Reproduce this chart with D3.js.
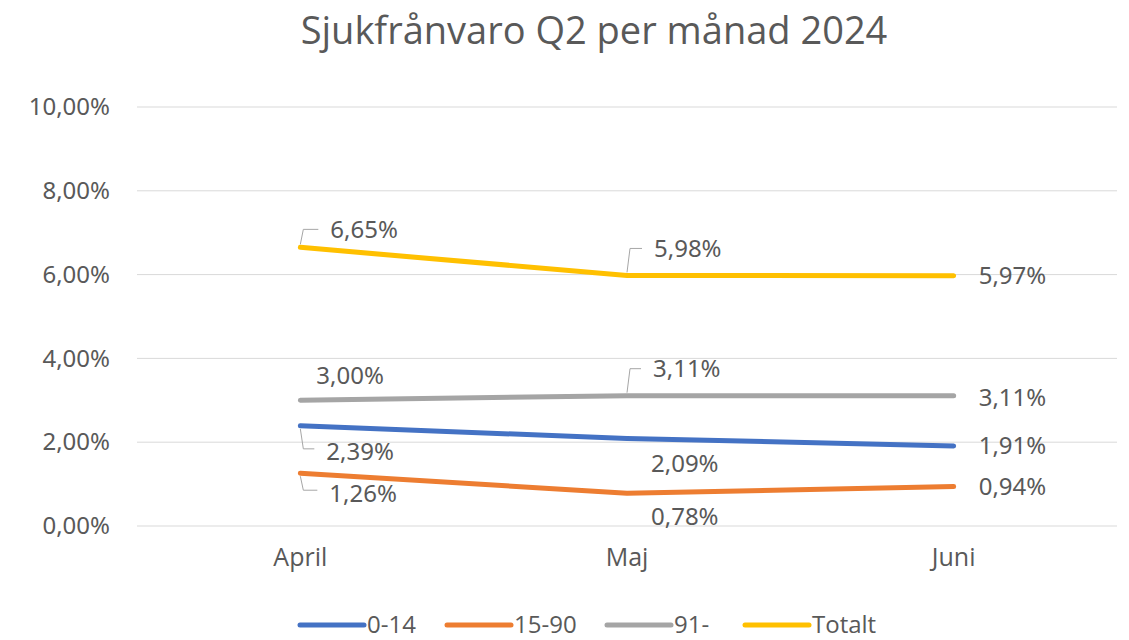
<!DOCTYPE html>
<html>
<head>
<meta charset="utf-8">
<script src="https://cdn.jsdelivr.net/npm/d3@7"></script>
<style>
  body { margin: 0; background: #fff; }
  svg text { fill: #595959; }
  .title { font-family: "Open Sans", sans-serif; font-size: 38px; }
  .ytick { font-family: "Noto Sans", sans-serif; font-size: 24px; }
  .xtick { font-family: "Liberation Sans Narrow", "Open Sans", sans-serif; font-size: 25px; }
  .dlabel { font-family: "Noto Sans", sans-serif; font-size: 24px; }
  .legend-text { font-family: "Liberation Sans Narrow", "Open Sans", sans-serif; font-size: 24px; }
</style>
</head>
<body>
<div id="chart"></div>
<script>
// data
const months = ["April", "Maj", "Juni"];
const seriesNames = ["0-14", "15-90", "91-", "Totalt"];
const values014 = [2.39, 2.09, 1.91];
const values1590 = [1.26, 0.78, 0.94];
const values91 = [3.00, 3.11, 3.11];
const valuesTotalt = [6.65, 5.98, 5.97];
const yTicks = [0, 2, 4, 6, 8, 10];

const seriesColors = ["#4472C4", "#ED7D31", "#A5A5A5", "#FFC000"];

// label placement per series / month: [dx, dy, leader?]
const labelPlacement = {
    "0-14":   [[26, 26, "down"], [24, 25, null], [25, 0, null]],
    "15-90":  [[29, 20, "down"], [24, 23, null], [25, 0, null]],
    "91-":    [[16, -25, null], [26, -27, "up"], [25, 2, null]],
    "Totalt": [[30, -18, "up"], [27, -27, "up"], [25, 0, null]]
};

const seriesData = [values014, values1590, values91, valuesTotalt].map((vals, i) => ({
    name: seriesNames[i],
    color: seriesColors[i],
    values: vals.map((v, j) => ({month: months[j], value: v}))
}));

const width = 1129, height = 640;
const margin = {top: 107, right: 12, bottom: 114, left: 137};

const svg = d3.select("#chart").append("svg")
    .attr("width", width)
    .attr("height", height);

svg.append("text")
    .attr("class", "title")
    .attr("x", 594)
    .attr("y", 44)
    .attr("text-anchor", "middle")
    .text("Sjukfrånvaro Q2 per månad 2024");

const x = d3.scaleBand()
    .domain(months)
    .range([margin.left, width - margin.right]);

const y = d3.scaleLinear()
    .domain([0, 10])
    .range([height - margin.bottom, margin.top]);

const fmt = v => d3.format(".2f")(v).replace(".", ",") + "%";

// gridlines
svg.append("g")
    .selectAll("line")
    .data(yTicks)
    .join("line")
    .attr("x1", margin.left)
    .attr("x2", width - margin.right)
    .attr("y1", d => y(d))
    .attr("y2", d => y(d))
    .attr("stroke", "#d9d9d9")
    .attr("stroke-width", 1);

// y axis labels
const yAxis = svg.append("g")
    .attr("transform", `translate(${margin.left},0)`)
    .call(d3.axisLeft(y).tickValues(yTicks).tickSize(0).tickPadding(27).tickFormat(fmt));
yAxis.select(".domain").remove();
yAxis.selectAll("text").attr("class", "ytick").attr("fill", null);

// x axis labels
const xAxis = svg.append("g")
    .attr("transform", `translate(0,${height - margin.bottom})`)
    .call(d3.axisBottom(x).tickSize(0).tickPadding(22));
xAxis.select(".domain").remove();
xAxis.selectAll("text").attr("class", "xtick").attr("fill", null);

const cx = d => x(d.month) + x.bandwidth() / 2;

const line = d3.line()
    .x(cx)
    .y(d => y(d.value));

// lines
svg.append("g")
    .selectAll("path")
    .data(seriesData)
    .join("path")
    .attr("d", d => line(d.values))
    .attr("fill", "none")
    .attr("stroke", d => d.color)
    .attr("stroke-width", 5)
    .attr("stroke-linecap", "round")
    .attr("stroke-linejoin", "round");

// data labels + leader lines
const labelGroup = svg.append("g");
seriesData.forEach(s => {
    s.values.forEach((d, j) => {
        const [dx, dy, leader] = labelPlacement[s.name][j];
        const px = cx(d), py = y(d.value);
        if (leader) {
            const sign = leader === "up" ? -1 : 1;
            const startY = py + sign * 3;
            const endY = py + dy + (leader === "up" ? 0 : -3);
            labelGroup.append("polyline")
                .attr("points", `${px},${startY} ${px + 3},${endY} ${px + dx - 12},${endY}`)
                .attr("fill", "none")
                .attr("stroke", "#a6a6a6")
                .attr("stroke-width", 1);
        }
        labelGroup.append("text")
            .attr("class", "dlabel")
            .attr("x", px + dx)
            .attr("y", py + dy)
            .attr("dy", "0.35em")
            .text(fmt(d.value));
    });
});

// legend
const legendX = [300, 447, 607, 745];
const legend = svg.append("g")
    .selectAll("g")
    .data(seriesData)
    .join("g")
    .attr("transform", (d, i) => `translate(${legendX[i]},625)`);

legend.append("line")
    .attr("x1", 0)
    .attr("x2", 64)
    .attr("stroke", d => d.color)
    .attr("stroke-width", 5)
    .attr("stroke-linecap", "round");

legend.append("text")
    .attr("class", "legend-text")
    .attr("x", 67)
    .attr("dy", "0.35em")
    .text(d => d.name);
</script>
</body>
</html>
